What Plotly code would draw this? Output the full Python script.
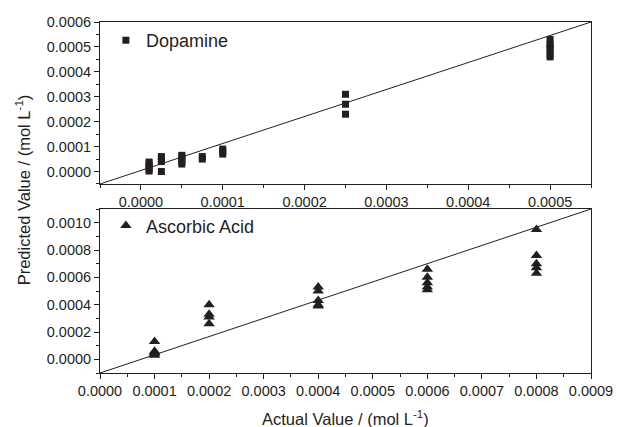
import plotly.graph_objects as go
from plotly.subplots import make_subplots

# Dopamine: actual concentration vs. predicted concentration (mol/L)
dopamine_actual = (
    [0.00001] * 5 + [0.000025] * 4 + [0.00005] * 5 + [0.000075] * 2
    + [0.0001] * 3 + [0.00025] * 3 + [0.0005] * 6
)
dopamine_pred = [
    0.000002, 0.00001, 0.00002, 0.00003, 0.000038,
    0.0, 0.00004, 0.00005, 0.00006,
    0.00003, 0.00004, 0.00005, 0.00006, 0.000065,
    0.00005, 0.00006,
    0.00007, 0.00008, 0.00009,
    0.00031, 0.00027, 0.00023,
    0.00053, 0.00051, 0.0005, 0.00049, 0.00047, 0.00046,
]

# Ascorbic acid: actual concentration vs. predicted concentration (mol/L)
ascorbic_actual = (
    [0.0001] * 5 + [0.0002] * 4 + [0.0004] * 5 + [0.0006] * 5 + [0.0008] * 5
)
ascorbic_pred = [
    0.00013, 0.00006, 0.00005, 0.00004, 0.00003,
    0.0004, 0.00033, 0.00031, 0.00026,
    0.00053, 0.0005, 0.00043, 0.0004, 0.00039,
    0.00066, 0.0006, 0.00056, 0.00053, 0.00051,
    0.00095, 0.00076, 0.0007, 0.00067, 0.00063,
]

# Reference lines running corner to corner of each panel
top_line_x = [-0.00005, 0.00055]
top_line_y = [-0.00005, 0.0006]
bottom_line_x = [0.0, 0.0009]
bottom_line_y = [-0.0001, 0.0011]

FONT = "Arial, Liberation Sans, Helvetica, sans-serif"
INK = "#231f20"

fig = make_subplots(rows=2, cols=1)

fig.add_trace(go.Scatter(
    x=top_line_x, y=top_line_y, mode="lines",
    line=dict(color=INK, width=1), showlegend=False, hoverinfo="skip",
), row=1, col=1)
fig.add_trace(go.Scatter(
    x=dopamine_actual, y=dopamine_pred, mode="markers", name="Dopamine",
    marker=dict(symbol="square", size=7, color=INK), legend="legend",
), row=1, col=1)

fig.add_trace(go.Scatter(
    x=bottom_line_x, y=bottom_line_y, mode="lines",
    line=dict(color=INK, width=1), showlegend=False, hoverinfo="skip",
), row=2, col=1)
fig.add_trace(go.Scatter(
    x=ascorbic_actual, y=ascorbic_pred, mode="markers", name="Ascorbic Acid",
    marker=dict(symbol="triangle-up", size=10, color=INK), legend="legend2",
), row=2, col=1)

axis_common = dict(
    showline=True, mirror=True, linecolor=INK, linewidth=1,
    showgrid=False, zeroline=False,
    ticks="outside", ticklen=5, tickwidth=1, tickcolor=INK,
    tickformat=".4f",
    tickfont=dict(family=FONT, size=14.5, color=INK),
)

fig.update_xaxes(**axis_common)
fig.update_yaxes(**axis_common)

fig.update_layout(
    xaxis=dict(range=[-0.00005, 0.00055], tick0=0, dtick=0.0001,
               minor=dict(dtick=0.00005, ticklen=3, ticks="outside", tickcolor=INK)),
    yaxis=dict(range=[-0.00005, 0.0006], tick0=0, dtick=0.0001, domain=[0.5385, 1.0],
               minor=dict(dtick=0.00005, ticklen=3, ticks="outside", tickcolor=INK)),
    xaxis2=dict(range=[0, 0.0009], tick0=0, dtick=0.0001,
                minor=dict(dtick=0.00005, ticklen=3, ticks="outside", tickcolor=INK)),
    yaxis2=dict(range=[-0.0001, 0.0011], tick0=0, dtick=0.0002, domain=[0.0, 0.4672],
                minor=dict(dtick=0.0001, ticklen=3, ticks="outside", tickcolor=INK)),
    width=625, height=427,
    margin=dict(l=100, r=28, t=22, b=54),
    paper_bgcolor="white", plot_bgcolor="white",
    font=dict(family=FONT, color=INK),
    legend=dict(x=0.012, y=1.0, xanchor="left", yanchor="top",
                bgcolor="rgba(0,0,0,0)", font=dict(family=FONT, size=18, color=INK)),
    legend2=dict(x=0.012, y=0.472, xanchor="left", yanchor="top",
                 bgcolor="rgba(0,0,0,0)", font=dict(family=FONT, size=18, color=INK)),
    annotations=[
        dict(text="Actual Value / (mol L<sup>-1</sup>)", xref="paper", yref="paper",
             x=0.5, y=-0.128, xanchor="center", yanchor="middle", showarrow=False,
             font=dict(family=FONT, size=16.5, color=INK)),
        dict(text="Predicted Value / (mol L<sup>-1</sup>)", xref="paper", yref="paper",
             x=-0.155, y=0.523, xanchor="center", yanchor="middle", showarrow=False,
             textangle=-90, font=dict(family=FONT, size=16.5, color=INK)),
    ],
)

fig.write_html("out.html")
